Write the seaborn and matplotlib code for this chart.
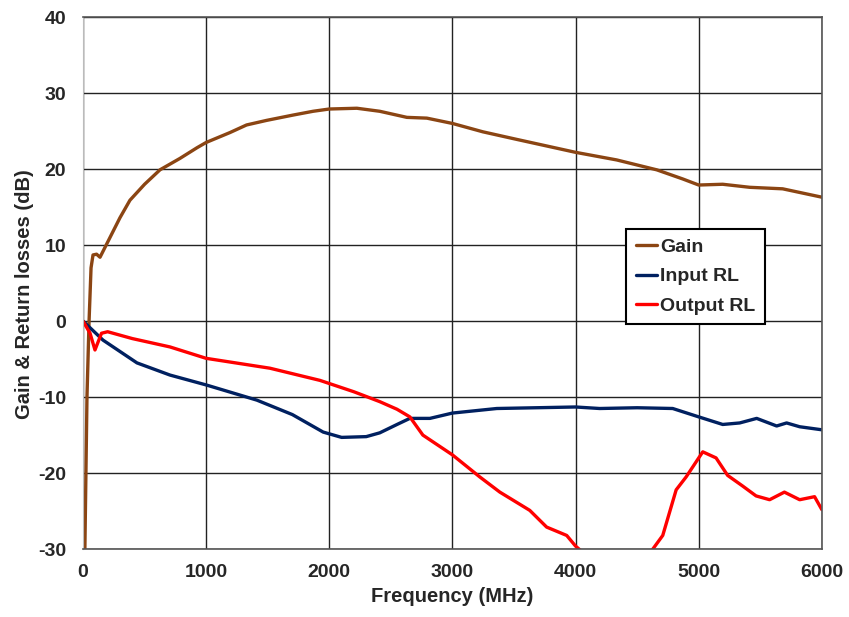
import numpy as np
import pandas as pd
import matplotlib
matplotlib.use("Agg")
import matplotlib.pyplot as plt
import seaborn as sns

# values (MHz, dB)
gain_freq = [15, 32, 49, 65, 81, 110, 138, 219, 300, 381, 500, 625, 787, 925, 1000,
             1193, 1328, 1490, 1705, 1868, 2000, 2224, 2410, 2630, 2792, 3000,
             3247, 3523, 4000, 4334, 4659, 4870, 5000, 5195, 5414, 5682, 6000]
gain_db = [-30, -10, 0, 7, 8.7, 8.8, 8.4, 11, 13.6, 15.9, 18.0, 19.9, 21.4, 22.8, 23.5,
           24.8, 25.8, 26.4, 27.1, 27.6, 27.9, 28.0, 27.6, 26.8, 26.7, 26.0,
           24.9, 23.9, 22.2, 21.2, 19.9, 18.7, 17.9, 18.0, 17.6, 17.4, 16.3]

in_freq = [0, 162, 438, 706, 1000, 1412, 1700, 1950, 2100, 2300, 2410, 2550, 2654,
           2817, 3000, 3360, 4000, 4196, 4500, 4789, 5000, 5195, 5333, 5471, 5633,
           5714, 5820, 6000]
in_db = [0, -2.5, -5.5, -7.1, -8.4, -10.4, -12.3, -14.6, -15.3, -15.2, -14.7, -13.6, -12.8,
         -12.8, -12.1, -11.5, -11.3, -11.5, -11.4, -11.5, -12.6, -13.6, -13.4, -12.8, -13.8,
         -13.4, -13.9, -14.3]

out_freq = [0, 57, 97, 150, 200, 400, 706, 1000, 1518, 1924, 2200, 2410, 2550, 2654,
            2760, 3000, 3222, 3385, 3628, 3765, 3928, 4000, 4100, 4350, 4600, 4627,
            4708, 4817, 4898, 5033, 5141, 5235, 5357, 5466, 5576, 5696, 5820, 5941, 6000]
out_db = [0, -1.6, -3.8, -1.6, -1.4, -2.3, -3.4, -4.9, -6.2, -7.8, -9.3, -10.6, -11.6, -12.6,
          -15.0, -17.6, -20.5, -22.5, -24.9, -27.1, -28.2, -29.6, -31, -33, -31, -30,
          -28.2, -22.2, -20.5, -17.2, -18.0, -20.3, -21.7, -23.0, -23.5, -22.5, -23.5, -23.1, -24.8]

series_names = ["Gain", "Input RL", "Output RL"]
series_colors = ["#8B4513", "#002060", "#FF0000"]

df = pd.concat([
    pd.DataFrame({"freq": gain_freq, "db": gain_db, "trace": "Gain"}),
    pd.DataFrame({"freq": in_freq, "db": in_db, "trace": "Input RL"}),
    pd.DataFrame({"freq": out_freq, "db": out_db, "trace": "Output RL"}),
])

sns.set_style("white")
plt.rcParams["font.family"] = ["Liberation Sans", "DejaVu Sans"]
plt.rcParams["axes.unicode_minus"] = False

fig = plt.figure(figsize=(8.49, 6.17), dpi=100)
ax = fig.add_axes([0.0978, 0.110, 0.8702, 0.8624])

sns.lineplot(data=df, x="freq", y="db", hue="trace", hue_order=series_names,
             palette=series_colors, linewidth=2.4, sort=False, estimator=None,
             ax=ax)

ax.set_xlim(0, 6000)
ax.set_ylim(-30, 40)
ax.set_xticks(np.arange(0, 6001, 1000))
ax.set_yticks(np.arange(-30, 41, 10))
ax.grid(True, color="#222222", linewidth=1.0)
ax.set_axisbelow(True)
ax.tick_params(axis="x", length=0, labelsize=14, pad=11)
ax.tick_params(axis="y", length=0, labelsize=14, pad=12)
for lab in ax.get_xticklabels() + ax.get_yticklabels():
    lab.set_fontweight("bold")

for side in ["top", "right", "bottom"]:
    ax.spines[side].set_color("#555555")
    ax.spines[side].set_linewidth(1.2)
ax.spines["left"].set_color("#bbbbbb")

ax.set_xlabel("Frequency (MHz)", fontsize=14.5, fontweight="bold", labelpad=4)
ax.set_ylabel("Gain & Return losses (dB)", fontsize=14.5, fontweight="bold")
ax.yaxis.set_label_coords(-0.067, 0.48)

leg = ax.legend(loc="upper left", bbox_to_anchor=(0.735, 0.602), frameon=True,
                fancybox=False, framealpha=1, edgecolor="black",
                prop={"weight": "bold", "size": 14}, handlelength=1.1,
                handletextpad=0.15, borderpad=0.5, labelspacing=0.6,
                borderaxespad=0)
leg.get_frame().set_linewidth(1.5)

fig.savefig("out.png", dpi=100)
